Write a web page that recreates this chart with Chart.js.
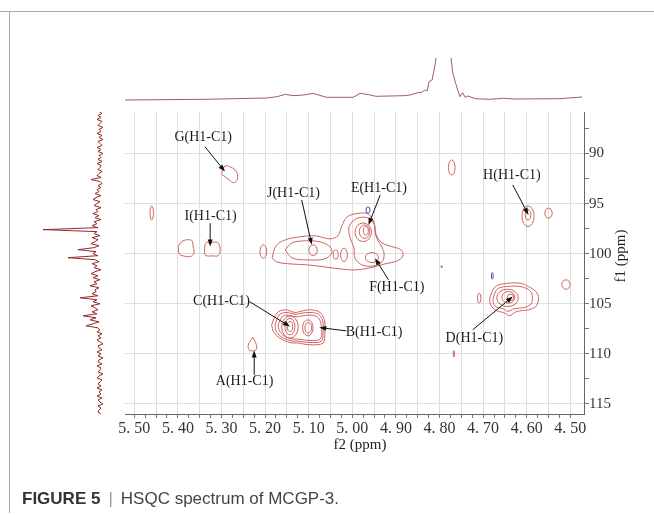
<!DOCTYPE html>
<html>
<head>
<meta charset="utf-8">
<script src="https://cdn.jsdelivr.net/npm/chart.js@4.4.1/dist/chart.umd.min.js"></script>
<style>
  html, body { margin: 0; padding: 0; background: #fff; }
  #wrap { position: relative; width: 654px; height: 515px; overflow: hidden; }
  #wrap canvas { position: absolute; }
  #frameTop { position: absolute; left: 0; top: 11px; width: 654px; border-top: 1px solid #a8a8a8; }
  #frameLeft { position: absolute; left: 9px; top: 11px; height: 502px; border-left: 1px solid #a8a8a8; }
  #caption { position: absolute; left: 22px; top: 490px; font: 17px/17px "Liberation Sans", Arial, sans-serif; color: #333; white-space: nowrap; }
  #caption .sep { color: #999; margin: 0 8px; }
  #caption .rest { color: #444; }
</style>
</head>
<body>
<div id="wrap">
  <div id="frameTop"></div>
  <div id="frameLeft"></div>
  <canvas id="topSpec" width="459" height="50" style="left:125px;top:58px"></canvas>
  <canvas id="leftSpec" width="90" height="302" style="left:35px;top:112px"></canvas>
  <canvas id="hsqc" width="654" height="515" style="left:0;top:0"></canvas>
  <div id="caption"><b>FIGURE 5</b><span class="sep">|</span><span class="rest">HSQC spectrum of MCGP-3.</span></div>
</div>
<script>
// axis ranges (ppm)
const X_MIN = 4.4686, X_MAX = 5.5213;   // f2, 1H
const Y_MIN = 85.86, Y_MAX = 116.0;     // f1, 13C

const xTickValues = [4.50, 4.525, 4.55, 4.575, 4.60, 4.625, 4.65, 4.675, 4.70, 4.725,
  4.75, 4.775, 4.80, 4.825, 4.85, 4.875, 4.90, 4.925, 4.95, 4.975, 5.00, 5.025, 5.05,
  5.075, 5.10, 5.125, 5.15, 5.175, 5.20, 5.225, 5.25, 5.275, 5.30, 5.325, 5.35, 5.375,
  5.40, 5.425, 5.45, 5.475, 5.50];
const yTickValues = [87.5, 90, 92.5, 95, 97.5, 100, 102.5, 105, 107.5, 110, 112.5, 115];

// 1H projection (top)
const topPpm = [5.522, 5.336, 5.197, 5.173, 5.153, 5.136, 5.112, 5.090, 5.075, 5.059,
  4.998, 4.982, 4.962, 4.946, 4.881, 4.864, 4.850, 4.839, 4.834, 4.828, 4.824, 4.817,
  4.811, 4.808, 4.805, 4.791, 4.777, 4.774, 4.770, 4.763, 4.757, 4.753, 4.747, 4.741,
  4.735, 4.718, 4.686, 4.653, 4.629, 4.524, 4.473];
const topInt = [4, 4.7, 6, 7.3, 9.7, 8.3, 9, 10.7, 8.7, 6.7,
  6.7, 10.7, 9.3, 7.7, 8.3, 9.3, 11.3, 12, 14, 13.3, 22.3, 24,
  37.3, 46, 120, 300, 120, 48, 32.3, 20.7, 12.3, 7.3, 11.3, 6.7,
  8, 5.3, 4.7, 5.7, 5, 5.3, 7];

// 13C projection (left), sampled every 0.2 ppm from 85.8
const LEFT_START = 85.8, LEFT_STEP = 0.2;
const leftInt = [
  1, -2, 2, -1, 3, -2, 0, 2, -3, 1,
  -1, 3, -2, 1, -3, 2, 0, -2, 3, -1,
  2, -3, 1, -1, 2, -2, 3, -1, 0, 2,
  -2, 1, 3, -1, 9, 0, -2, 2, -1, 3,
  1, 5, -1, 4, 7, 0, 3, 6, -1, 4,
  2, 7, 1, 5, -1, 6, 3, 8, 2, 57,
  3, 6, 0, 8, 2, 5, 9, 1, 6, 22,
  4, 7, 2, 32, 5, 1, 8, 3, 6, -1,
  5, 9, 2, 7, 0, 6, 3, 10, 1, 5,
  4, 8, 2, 20, 3, 7, 0, 9, 5, 2,
  8, 3, 17, 4, 10, 1, 7, 14, 2, 0,
  3, -2, 2, -1, 3, 0, -3, 2, 1, -2,
  3, -1, 2, -3, 1, 2, -2, 3, -1, 0,
  2, -3, 1, 3, -2, 0, 2, -1, 3, -2,
  1, -1, 3, -2, 2, 0, -3, 2, -1, 1,
  2, -1];

// contour outlines, [f2, f1] in ppm
const outerJEF = [[5.184,100.42],[5.175,99.22],[5.154,98.62],[5.120,98.32],[5.085,98.22],
  [5.051,98.52],[5.033,98.22],[5.024,97.23],[5.012,96.33],[4.987,95.98],[4.964,96.03],
  [4.950,96.93],[4.946,98.02],[4.932,98.92],[4.907,99.32],[4.888,99.62],[4.884,100.22],
  [4.897,100.72],[4.925,101.02],[4.960,101.42],[4.994,101.62],[5.028,101.52],[5.063,101.32],
  [5.102,101.12],[5.143,101.02],[5.173,100.82]];
const levelJ = [[5.154,99.62],[5.138,98.92],[5.108,98.72],[5.074,98.82],[5.051,99.32],
  [5.047,99.92],[5.063,100.52],[5.102,100.62],[5.138,100.42]];
const levelEF = [[5.001,96.83],[4.987,96.43],[4.964,96.43],[4.950,97.03],[4.946,98.22],
  [4.934,99.22],[4.927,100.02],[4.932,100.82],[4.950,101.22],[4.978,101.12],[4.994,100.42],
  [4.996,99.42],[5.005,98.42],[5.008,97.43]];
const outerCB = [[5.185,107.10],[5.173,105.93],[5.154,105.60],[5.131,105.87],[5.120,105.77],
  [5.097,105.60],[5.074,105.87],[5.064,106.60],[5.063,107.93],[5.067,108.92],[5.097,109.09],
  [5.124,108.92],[5.143,108.86],[5.166,108.42],[5.181,107.77]];
const level2CB = [[5.177,107.10],[5.168,106.13],[5.152,105.87],[5.129,106.05],[5.118,105.95],
  [5.097,105.87],[5.078,106.05],[5.068,106.70],[5.067,107.90],[5.071,108.74],[5.097,108.86],
  [5.123,108.74],[5.143,108.66],[5.164,108.25],[5.175,107.70]];
const level3CB = [[5.170,107.10],[5.161,106.30],[5.150,106.13],[5.129,106.30],[5.118,106.23],
  [5.097,106.13],[5.081,106.30],[5.073,106.80],[5.070,107.90],[5.074,108.54],[5.097,108.66],
  [5.122,108.54],[5.143,108.46],[5.161,108.05],[5.168,107.60]];
const outerG = [[5.298,91.81],[5.292,91.25],[5.281,91.32],[5.269,91.65],[5.263,92.14],
  [5.265,92.71],[5.273,92.91],[5.282,92.64],[5.292,92.31],[5.300,92.04]];
const outerIleft = [[5.399,99.29],[5.391,98.79],[5.380,98.62],[5.368,98.69],[5.365,99.29],
  [5.363,99.95],[5.372,100.29],[5.388,100.22],[5.397,100.02]];
const outerI = [[5.338,99.12],[5.333,98.85],[5.325,98.95],[5.315,98.82],[5.307,98.95],
  [5.303,99.62],[5.307,100.19],[5.322,100.22],[5.336,100.19],[5.339,99.89]];
const outerA = [[5.228,108.33],[5.223,108.76],[5.219,109.32],[5.223,109.66],[5.235,109.66],
  [5.239,109.26],[5.235,108.76]];
const outerD = [[4.684,104.28],[4.673,103.34],[4.654,103.01],[4.615,102.94],[4.596,103.28],
  [4.579,103.78],[4.573,104.44],[4.579,105.27],[4.596,105.60],[4.623,105.77],[4.640,106.20],
  [4.650,105.93],[4.673,105.60],[4.684,104.94]];
const level2D = [[4.676,104.31],[4.668,103.56],[4.652,103.31],[4.618,103.26],[4.599,103.51],
  [4.589,103.91],[4.587,104.46],[4.590,105.01],[4.604,105.35],[4.629,105.50],[4.643,105.75],
  [4.654,105.50],[4.670,105.30],[4.677,104.86]];

// single-peak contour rings: [f2 centre, f1 centre, f2 half-width, f1 half-width]
const redRings = [
  [5.460, 95.93, 0.0040, 0.70], [5.204, 99.79, 0.0077, 0.67],
  [5.038, 100.09, 0.0057, 0.47], [5.019, 100.12, 0.0077, 0.67],
  [5.090, 99.65, 0.0096, 0.53],
  [4.975, 97.86, 0.0190, 0.93], [4.972, 97.80, 0.0120, 0.67], [4.969, 97.71, 0.0057, 0.42],
  [4.955, 100.39, 0.0150, 0.50],
  [4.772, 91.40, 0.0077, 0.75],
  [4.597, 96.26, 0.0140, 1.03], [4.597, 96.13, 0.0065, 0.50], [4.550, 95.96, 0.0084, 0.50],
  [4.644, 104.41, 0.0248, 0.87], [4.642, 104.36, 0.0150, 0.58], [4.637, 104.36, 0.0077, 0.32],
  [4.709, 104.44, 0.0040, 0.50], [4.510, 103.08, 0.0096, 0.47], [4.767, 109.99, 0.0016, 0.33],
  [5.143, 107.32, 0.0190, 1.11], [5.143, 107.27, 0.0115, 0.83], [5.143, 107.27, 0.0062, 0.50],
  [5.102, 107.40, 0.0120, 0.80], [5.101, 107.40, 0.0077, 0.53]
];
const blueRings = [[4.964, 95.65, 0.0046, 0.32], [4.679, 102.21, 0.0020, 0.33], [4.795, 101.29, 0.0016, 0.07]];

// peak labels and where their arrows point (ppm)
const peakLabels = ['A(H1-C1)', 'B(H1-C1)', 'C(H1-C1)', 'D(H1-C1)', 'E(H1-C1)',
  'F(H1-C1)', 'G(H1-C1)', 'H(H1-C1)', 'I(H1-C1)', 'J(H1-C1)'];
const labelLayout = [
  { at: [5.247, 112.78], from: [5.225, 112.08], to: [5.225, 109.66] },
  { at: [4.950, 107.80], from: [5.014, 107.70], to: [5.076, 107.37] },
  { at: [5.300, 104.78], from: [5.236, 104.78], to: [5.143, 107.27] },
  { at: [4.720, 108.46], from: [4.724, 107.60], to: [4.632, 104.28] },
  { at: [4.939, 93.51], from: [4.936, 94.14], to: [4.963, 97.13] },
  { at: [4.898, 103.31], from: [4.917, 102.61], to: [4.948, 100.45] },
  { at: [5.342, 88.35], from: [5.338, 89.32], to: [5.292, 91.81] },
  { at: [4.634, 92.14], from: [4.632, 93.14], to: [4.596, 96.13] },
  { at: [5.325, 96.23], from: [5.326, 96.96], to: [5.326, 99.29] },
  { at: [5.135, 93.94], from: [5.116, 94.64], to: [5.093, 99.12] }
];

const RED = '#d06262';
const BLUE = '#4a4ac4';
const SERIF = '"Liberation Serif", "Times New Roman", serif';

function isMult( v, step )
{
    return Math.abs(v / step - Math.round(v / step)) < 1e-6;
}

function outline( pts, color )
{
    return {
        data: pts.concat([pts[0]]).map(( p ) => ({ x: p[0], y: p[1] })),
        showLine: true,
        borderColor: color,
        borderWidth: 1,
        pointRadius: 0,
        tension: 0.35,
        fill: false
    };
}

const contourSets = [outerJEF, levelJ, levelEF, outerCB, level2CB, level3CB,
    outerG, outerIleft, outerI, outerA, outerD, level2D].map(( p ) => outline(p, RED));

const hsqcDecor = {
    id: 'hsqcDecor',
    afterDatasetsDraw( chart )
    {
        const ctx = chart.ctx;
        const xs = chart.scales.x;
        const ys = chart.scales.y;
        const area = chart.chartArea;

        ctx.save();
        ctx.beginPath();
        ctx.rect(area.left, area.top, area.right - area.left, area.bottom - area.top);
        ctx.clip();
        ctx.lineWidth = 1;

        const drawRings = ( rings, color ) =>
        {
            ctx.strokeStyle = color;
            rings.forEach(( r ) =>
            {
                const cx = xs.getPixelForValue(r[0]);
                const cy = ys.getPixelForValue(r[1]);
                const rx = Math.abs(xs.getPixelForValue(r[0] + r[2]) - cx);
                const ry = Math.abs(ys.getPixelForValue(r[1] + r[3]) - cy);
                ctx.beginPath();
                ctx.ellipse(cx, cy, Math.max(rx, 0.6), Math.max(ry, 0.6), 0, 0, Math.PI * 2);
                ctx.stroke();
            });
        };
        drawRings(redRings, RED);
        drawRings(blueRings, BLUE);

        // arrows
        ctx.strokeStyle = '#111';
        ctx.fillStyle = '#111';
        labelLayout.forEach(( a ) =>
        {
            const x1 = xs.getPixelForValue(a.from[0]), y1 = ys.getPixelForValue(a.from[1]);
            const x2 = xs.getPixelForValue(a.to[0]), y2 = ys.getPixelForValue(a.to[1]);
            const ang = Math.atan2(y2 - y1, x2 - x1);
            ctx.beginPath();
            ctx.moveTo(x1, y1);
            ctx.lineTo(x2 - 4 * Math.cos(ang), y2 - 4 * Math.sin(ang));
            ctx.stroke();
            ctx.beginPath();
            ctx.moveTo(x2, y2);
            ctx.lineTo(x2 - 7 * Math.cos(ang) + 2.5 * Math.sin(ang), y2 - 7 * Math.sin(ang) - 2.5 * Math.cos(ang));
            ctx.lineTo(x2 - 7 * Math.cos(ang) - 2.5 * Math.sin(ang), y2 - 7 * Math.sin(ang) + 2.5 * Math.cos(ang));
            ctx.closePath();
            ctx.fill();
        });

        // labels
        ctx.font = '14px ' + SERIF;
        ctx.textAlign = 'center';
        ctx.textBaseline = 'middle';
        ctx.fillStyle = '#1a1a1a';
        labelLayout.forEach(( a, i ) =>
        {
            ctx.fillText(peakLabels[i], xs.getPixelForValue(a.at[0]), ys.getPixelForValue(a.at[1]));
        });
        ctx.restore();

        // axis titles
        ctx.save();
        ctx.font = '15px ' + SERIF;
        ctx.fillStyle = '#222';
        ctx.textAlign = 'center';
        ctx.textBaseline = 'middle';
        ctx.fillText('f2 (ppm)', 360, 445);
        ctx.translate(621, 256);
        ctx.rotate(-Math.PI / 2);
        ctx.fillText('f1 (ppm)', 0, 0);
        ctx.restore();
    }
};

new Chart(document.getElementById('hsqc'), {
    type: 'scatter',
    data: { datasets: contourSets },
    options: {
        responsive: false,
        animation: false,
        events: [],
        layout: { padding: { left: 125, top: 112, right: 40, bottom: 71 } },
        plugins: { legend: { display: false }, tooltip: { enabled: false } },
        scales: {
            x: {
                type: 'linear', position: 'bottom', reverse: true, min: X_MIN, max: X_MAX,
                afterBuildTicks: ( s ) => { s.ticks = xTickValues.map(( v ) => ({ value: v })); },
                afterFit: ( s ) => { s.height = 30; },
                ticks: {
                    autoSkip: false, maxRotation: 0, padding: 1, color: '#333',
                    font: { family: SERIF, size: 16 },
                    callback: ( v ) => isMult(v, 0.1) ? v.toFixed(2).replace('.', '. ') : ''
                },
                grid: {
                    color: ( c ) => isMult(c.tick.value, 0.05) ? '#dedede' : 'rgba(0,0,0,0)',
                    tickColor: '#777', tickLength: 4
                },
                border: { color: '#666' }
            },
            y: {
                type: 'linear', position: 'right', reverse: true, min: Y_MIN, max: Y_MAX,
                afterBuildTicks: ( s ) => { s.ticks = yTickValues.map(( v ) => ({ value: v })); },
                afterFit: ( s ) => { s.width = 30; },
                ticks: {
                    autoSkip: false, padding: 0, color: '#333',
                    font: { family: SERIF, size: 15 },
                    callback: ( v ) => isMult(v, 5) ? String(v) : ''
                },
                grid: {
                    color: ( c ) => isMult(c.tick.value, 5) ? '#dedede' : 'rgba(0,0,0,0)',
                    tickColor: '#777', tickLength: 5
                },
                border: { color: '#666' }
            }
        }
    },
    plugins: [hsqcDecor]
});

new Chart(document.getElementById('topSpec'), {
    type: 'scatter',
    data: {
        datasets: [{
            data: topPpm.map(( p, i ) => ({ x: p, y: topInt[i] })),
            showLine: true, borderColor: '#a45c5c', borderWidth: 1, pointRadius: 0
        }]
    },
    options: {
        responsive: false, animation: false, events: [],
        layout: { padding: 0 },
        plugins: { legend: { display: false }, tooltip: { enabled: false } },
        scales: {
            x: { display: false, type: 'linear', reverse: true, min: X_MIN, max: X_MAX },
            y: { display: false, min: -4, max: 46 }
        }
    }
});

new Chart(document.getElementById('leftSpec'), {
    type: 'scatter',
    data: {
        datasets: [{
            data: leftInt.map(( v, i ) => ({ x: v, y: LEFT_START + i * LEFT_STEP })),
            showLine: true, borderColor: '#922a2a', borderWidth: 1, pointRadius: 0
        }]
    },
    options: {
        responsive: false, animation: false, events: [],
        layout: { padding: 0 },
        plugins: { legend: { display: false }, tooltip: { enabled: false } },
        scales: {
            x: { display: false, type: 'linear', reverse: true, min: -25, max: 65 },
            y: { display: false, type: 'linear', reverse: true, min: Y_MIN, max: Y_MAX }
        }
    }
});
</script>
</body>
</html>
